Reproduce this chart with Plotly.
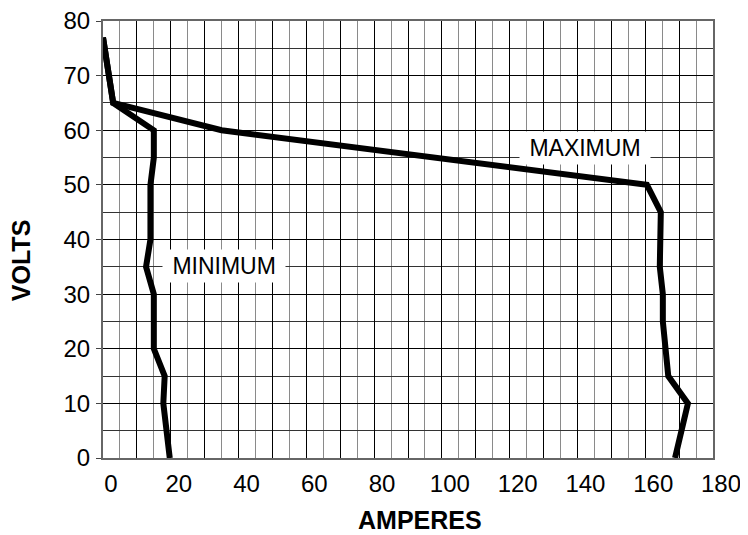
import plotly.graph_objects as go

# Tick values
amps_ticks = list(range(0, 181, 20))
volt_ticks = list(range(0, 81, 10))

# MAXIMUM curve (amperes, volts)
max_amps = [0, 3, 35, 160.5, 164.6, 164.3, 165.2, 165.2, 166.8, 172.6, 168.8]
max_volts = [77, 65, 60, 50, 45, 35, 30, 25, 15, 10, 0]

# MINIMUM curve (amperes, volts)
min_amps = [0, 3, 15, 15, 14, 14, 12.7, 15, 15, 18.2, 17.8, 19.7]
min_volts = [77, 65, 60, 55, 50, 40, 35, 30, 20, 15, 10, 0]

FONT = "Liberation Sans, Arial, Helvetica, sans-serif"

fig = go.Figure()
fig.add_trace(go.Scatter(x=max_amps, y=max_volts, mode="lines",
                         line=dict(color="black", width=6),
                         showlegend=False, hoverinfo="skip"))
fig.add_trace(go.Scatter(x=min_amps, y=min_volts, mode="lines",
                         line=dict(color="black", width=6),
                         showlegend=False, hoverinfo="skip"))

grid10 = list(range(0, 181, 10))
fig.update_layout(
    width=740, height=527,
    margin=dict(l=95, r=35, t=13, b=77),
    paper_bgcolor="white", plot_bgcolor="white",
    font=dict(family=FONT, color="black", size=24),
    xaxis=dict(
        range=[0, 180], tickmode="array", tickvals=grid10,
        ticktext=[str(v) if v % 20 == 0 else "" for v in grid10],
        ticks="", showgrid=True, gridcolor="black", gridwidth=1,
        zeroline=False, showline=True, linecolor="#666", linewidth=2,
        mirror=True, ticklabelshift=8, ticklabelstandoff=3,
        ticklabeloverflow="allow",
        tickfont=dict(size=24), automargin=False,
        minor=dict(tickmode="linear", tick0=0, dtick=5, showgrid=True,
                   gridcolor="#8a8a8a", gridwidth=1, ticks=""),
    ),
    xaxis2=dict(
        overlaying="x", matches="x", anchor="y", side="bottom",
        tickmode="array", tickvals=amps_ticks, ticks="outside", ticklen=4,
        tickcolor="#444", showticklabels=False, showgrid=False,
        zeroline=False, showline=False, automargin=False,
    ),
    yaxis=dict(
        range=[0, 80], tickmode="array", tickvals=volt_ticks,
        ticks="outside", ticklen=5, tickcolor="#444",
        showgrid=True, gridcolor="black", gridwidth=1,
        zeroline=False, showline=True, linecolor="#666", linewidth=2,
        mirror=True, tickfont=dict(size=24), ticklabelstandoff=1,
        ticklabeloverflow="allow", automargin=False,
        minor=dict(tickmode="linear", tick0=0, dtick=5, showgrid=True,
                   gridcolor="#333", gridwidth=1, ticks=""),
    ),
    annotations=[
        dict(x=142.3, y=56.8, xref="x", yref="y", text="&nbsp;MAXIMUM&nbsp;",
             showarrow=False, bgcolor="white", borderpad=3,
             font=dict(size=23, family=FONT, color="black")),
        dict(x=35.8, y=35.2, xref="x", yref="y", text="&nbsp;MINIMUM&nbsp;",
             showarrow=False, bgcolor="white", borderpad=3,
             font=dict(size=23, family=FONT, color="black")),
        dict(x=-0.134, y=0.451, xref="paper", yref="paper", text="<b>VOLTS</b>",
             textangle=-90, showarrow=False, xanchor="center", yanchor="middle",
             font=dict(size=25, family=FONT, color="black")),
        dict(x=0.519, y=-0.142, xref="paper", yref="paper", text="<b>AMPERES</b>",
             showarrow=False, xanchor="center", yanchor="middle",
             font=dict(size=25, family=FONT, color="black")),
    ],
)

fig.write_html("out.html")
